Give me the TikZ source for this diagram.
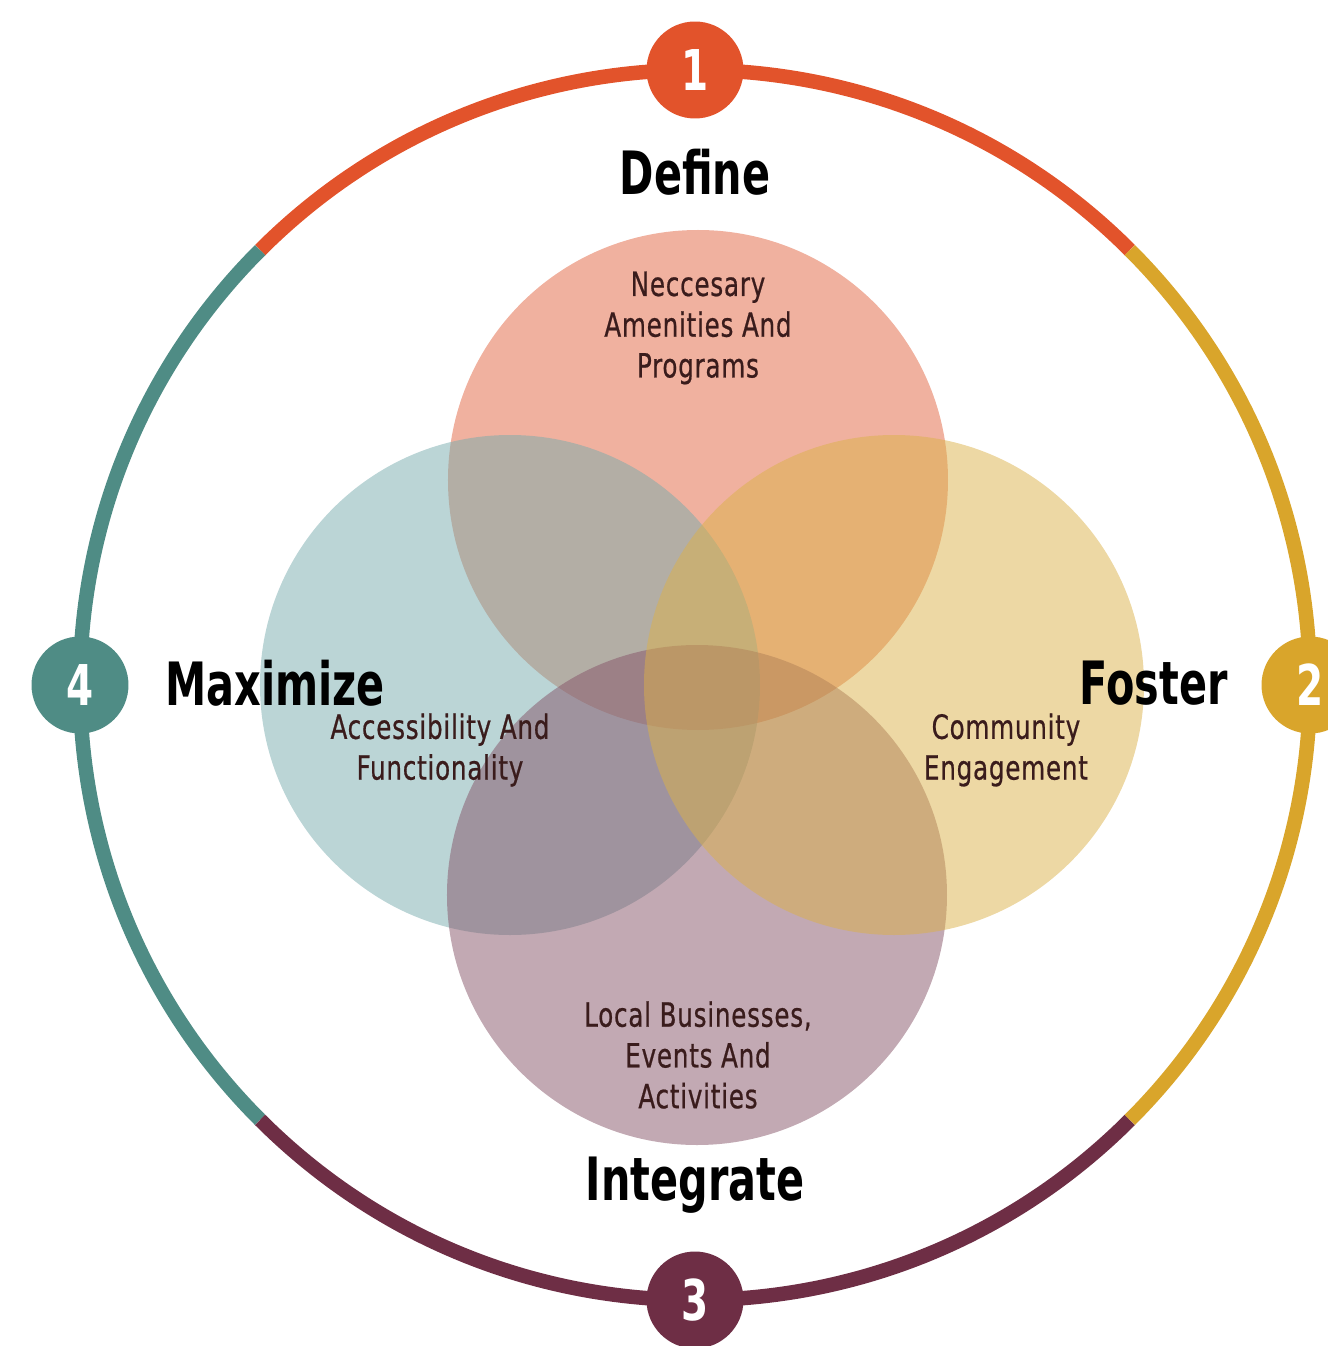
\documentclass[tikz,border=0pt]{standalone}
\usepackage{fontspec}
\setmainfont{DejaVu Sans Condensed}
\newfontfamily\headfont[FakeStretch=0.77]{DejaVu Sans Condensed Bold}
\newfontfamily\bodyfont[FakeStretch=0.82, FakeBold=0.6, LetterSpace=2.3]{DejaVu Sans Condensed}
\usetikzlibrary{positioning}

\definecolor{defred}{HTML}{E2532B}
\definecolor{fosgold}{HTML}{D9A52B}
\definecolor{intmaroon}{HTML}{6E2E45}
\definecolor{maxteal}{HTML}{4F8C85}
\definecolor{vennred}{RGB}{225,99,63}
\definecolor{venngold}{RGB}{219,177,73}
\definecolor{vennteal}{RGB}{119,171,173}
\definecolor{vennmauve}{RGB}{133,83,103}
\definecolor{txtbrown}{HTML}{3A1C1C}

\begin{document}
\begin{tikzpicture}[x=0.02cm,y=0.02cm,
	ring/.style={line width=0.29cm},
	badge/.style={circle, minimum size=1.94cm, inner sep=0pt, text=white, font=\headfont\fontsize{32}{32}\selectfont},
	venn/.style={fill opacity=0.5},
	heading/.style={inner sep=0pt, font=\headfont\fontsize{34}{34}\selectfont},
	body/.style={align=center, text=txtbrown, font=\bodyfont\fontsize{19}{23.2}\selectfont}]
	\useasboundingbox (-695,-661) rectangle (633,685);
	% overlapping circles
	\fill[venn, vennred] (3,205) circle[radius=250];
	\fill[venn, vennteal] (-185,0) circle[radius=250];
	\fill[venn, vennmauve] (2,-210) circle[radius=250];
	\fill[venn, venngold] (199,0) circle[radius=250];
	% outer ring
	\draw[ring, defred] (45:615) arc[start angle=45, end angle=135, radius=615];
	\draw[ring, maxteal] (135:615) arc[start angle=135, end angle=225, radius=615];
	\draw[ring, intmaroon] (225:615) arc[start angle=225, end angle=315, radius=615];
	\draw[ring, fosgold] (-45:615) arc[start angle=-45, end angle=45, radius=615];
	\draw (0,615) node[badge, fill=defred] (B1) {1};
	\draw (615,0) node[badge, fill=fosgold] (B2) {2};
	\draw (0,-615) node[badge, fill=intmaroon] (B3) {3};
	\draw (-615,0) node[badge, fill=maxteal] (B4) {4};
	% headings
	\draw (0,513) node[heading] (Define) {Define};
	\draw (533,2) node[heading, anchor=east] (Foster) {Foster};
	\draw (0,-500) node[heading] (Integrate) {Integrate};
	\draw (-530,2) node[heading, anchor=west] (Maximize) {Maximize};
	% circle texts
	\draw (3,357) node[body] (Tdef) {Neccesary\\Amenities And\\Programs};
	\draw (311,-65) node[body] (Tfos) {Community\\Engagement};
	\draw (3,-370) node[body] (Tint) {Local Businesses,\\Events And\\Activities};
	\draw (-255,-65) node[body] (Tmax) {Accessibility And\\Functionality};
\end{tikzpicture}
\end{document}
